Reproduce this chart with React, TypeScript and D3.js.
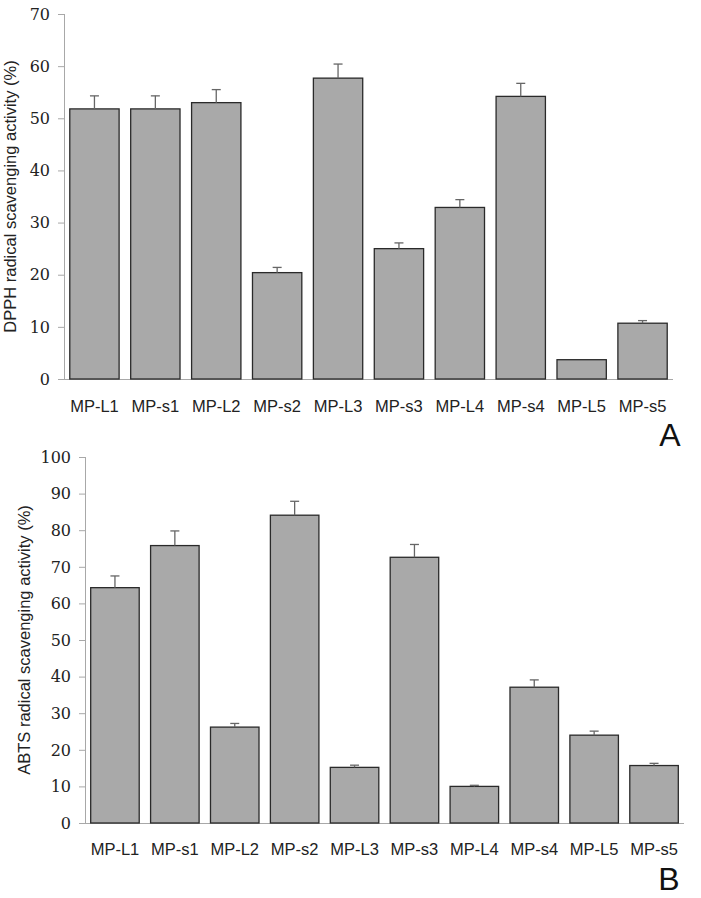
import React from "react";
import * as d3 from "d3";

const categories = ["MP-L1", "MP-s1", "MP-L2", "MP-s2", "MP-L3", "MP-s3", "MP-L4", "MP-s4", "MP-L5", "MP-s5"];
const dpphValues = [51.8, 51.8, 53.0, 20.4, 57.7, 25.0, 32.9, 54.2, 3.7, 10.7];
const dpphErrors = [2.5, 2.5, 2.5, 1.0, 2.7, 1.1, 1.5, 2.5, 0, 0.5];
const abtsValues = [64.3, 75.8, 26.2, 84.1, 15.2, 72.6, 10.0, 37.1, 24.0, 15.7];
const abtsErrors = [3.2, 4.0, 1.0, 3.8, 0.6, 3.5, 0.3, 2.0, 1.1, 0.6];
const dpphTicks = [0, 10, 20, 30, 40, 50, 60, 70];
const abtsTicks = [0, 10, 20, 30, 40, 50, 60, 70, 80, 90, 100];

type PanelProps = {
  values: number[];
  errors: number[];
  ticks: number[];
  yMax: number;
  x0: number;
  x1: number;
  yTop: number;
  yBottom: number;
  yLabel: string;
  yLabelX: number;
  tickLabelBaseline: number;
  letter: string;
  letterX: number;
  letterY: number;
};

function Panel(p: PanelProps) {
  const x = d3.scaleBand<string>().domain(categories).range([p.x0, p.x1]).paddingInner(0.19).paddingOuter(0.095);
  const y = d3.scaleLinear().domain([0, p.yMax]).range([p.yBottom, p.yTop]);
  const bw = x.bandwidth();
  const sans = "'Liberation Sans', Arial, sans-serif";
  return (
    <g>
      <line x1={p.x0 + 0.5} x2={p.x0 + 0.5} y1={y(p.yMax)} y2={p.yBottom} stroke="#a8a8a8" strokeWidth={1} />
      <line x1={p.x0 - 6} x2={p.x1} y1={p.yBottom + 0.5} y2={p.yBottom + 0.5} stroke="#a8a8a8" strokeWidth={1} />
      {p.ticks.map((t) => (
        <g key={t}>
          <line x1={p.x0 - 6} x2={p.x0} y1={y(t) + 0.5} y2={y(t) + 0.5} stroke="#a8a8a8" strokeWidth={1} />
          <text
            x={p.x0 - 14}
            y={y(t)}
            dy="0.36em"
            textAnchor="end"
            fontFamily="'DejaVu Serif', serif"
            fontSize={16}
            fill="#222"
          >
            {t}
          </text>
        </g>
      ))}
      {categories.map((c, i) => (
        <rect
          key={c}
          x={x(c)!}
          y={y(p.values[i])}
          width={bw}
          height={p.yBottom - y(p.values[i])}
          fill="#a9a9a9"
          stroke="#2a2a2a"
          strokeWidth={1.3}
        />
      ))}
      {categories.map((c, i) =>
        p.errors[i] > 0 ? (
          <g key={c + "e"} stroke="#666" strokeWidth={1.3}>
            <line
              x1={x(c)! + bw / 2}
              x2={x(c)! + bw / 2}
              y1={y(p.values[i])}
              y2={y(p.values[i] + p.errors[i])}
            />
            <line
              x1={x(c)! + bw / 2 - 4.5}
              x2={x(c)! + bw / 2 + 4.5}
              y1={y(p.values[i] + p.errors[i])}
              y2={y(p.values[i] + p.errors[i])}
            />
          </g>
        ) : null
      )}
      {categories.map((c) => (
        <text
          key={c + "l"}
          x={x(c)! + bw / 2}
          y={p.tickLabelBaseline}
          textAnchor="middle"
          fontFamily={sans}
          fontSize={16.5}
          fill="#222"
        >
          {c}
        </text>
      ))}
      <text
        transform={`translate(${p.yLabelX},${(p.yTop + p.yBottom) / 2}) rotate(-90)`}
        textAnchor="middle"
        fontFamily={sans}
        fontSize={16.5}
        fill="#222"
      >
        {p.yLabel}
      </text>
      <text x={p.letterX} y={p.letterY} textAnchor="middle" fontFamily={sans} fontSize={32} fill="#111">
        {p.letter}
      </text>
    </g>
  );
}

export default function App() {
  return (
    <svg width={701} height={898} style={{ position: "absolute", left: 0, top: 0, background: "#fff" }}>
      <rect width={701} height={898} fill="#fff" />
      <Panel
        values={dpphValues}
        errors={dpphErrors}
        ticks={dpphTicks}
        yMax={70}
        x0={64}
        x1={673}
        yTop={14}
        yBottom={379}
        yLabel="DPPH radical scavenging activity (%)"
        yLabelX={16}
        tickLabelBaseline={412}
        letter="A"
        letterX={670}
        letterY={446}
      />
      <Panel
        values={abtsValues}
        errors={abtsErrors}
        ticks={abtsTicks}
        yMax={100}
        x0={85}
        x1={684}
        yTop={457}
        yBottom={823}
        yLabel="ABTS radical scavenging activity (%)"
        yLabelX={30}
        tickLabelBaseline={855}
        letter="B"
        letterX={669}
        letterY={890}
      />
    </svg>
  );
}
